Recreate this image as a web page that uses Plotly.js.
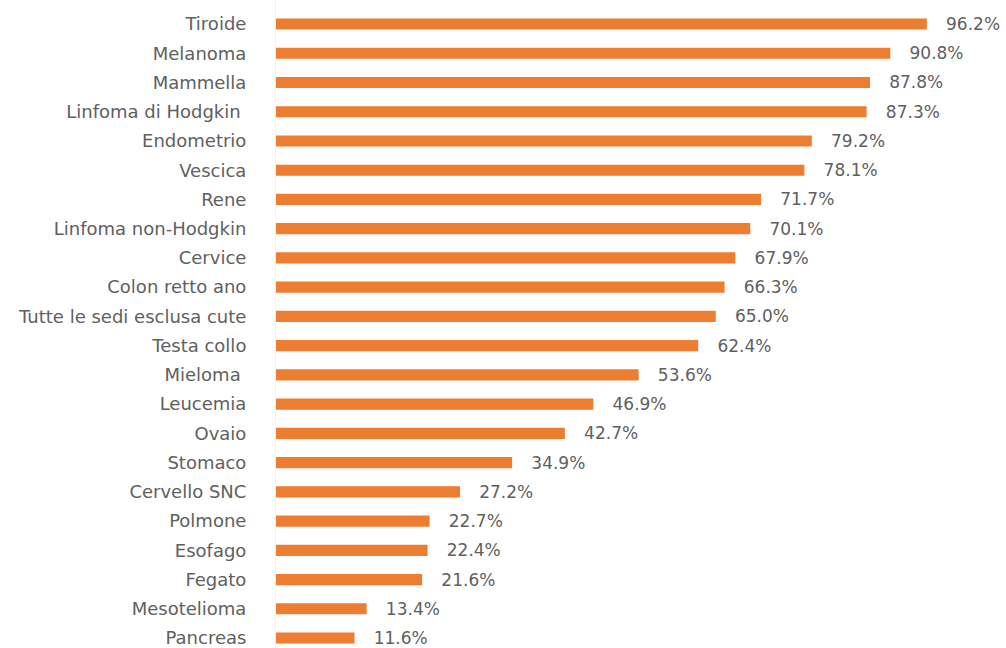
<!DOCTYPE html>
<html><head><meta charset="utf-8">
<script src="https://cdn.plot.ly/plotly-3.0.1.min.js"></script>
<style>html,body{margin:0;padding:0;background:#fff;}#chart{width:1006px;height:648px;}</style>
</head><body><div id="chart"></div>
<script>
const categories = ["Tiroide","Melanoma","Mammella","Linfoma di Hodgkin ","Endometrio","Vescica","Rene","Linfoma non-Hodgkin","Cervice","Colon retto ano","Tutte le sedi esclusa cute","Testa collo","Mieloma ","Leucemia","Ovaio","Stomaco","Cervello SNC","Polmone","Esofago","Fegato","Mesotelioma","Pancreas"];
const values = [96.2,90.8,87.8,87.3,79.2,78.1,71.7,70.1,67.9,66.3,65.0,62.4,53.6,46.9,42.7,34.9,27.2,22.7,22.4,21.6,13.4,11.6];
const valueLabels = values.map(v => "\u00a0\u00a0\u00a0" + v.toFixed(1) + "%");

const trace = {
  type: "bar", orientation: "h",
  x: values, y: categories,
  marker: {color: "#ED7D31"},
  text: valueLabels, textposition: "outside", cliponaxis: false, constraintext: "none",
  textfont: {family: "DejaVu Sans, sans-serif", size: 17, color: "#606060"},
  hoverinfo: "none"
};
const layout = {
  width: 1006, height: 648,
  margin: {l: 276, r: 0, t: 0, b: 0},
  paper_bgcolor: "#fff", plot_bgcolor: "#fff",
  bargap: 0.62,
  showlegend: false,
  xaxis: {range: [0, 107.9], showgrid: false, zeroline: false, showticklabels: false, showline: false, fixedrange: true},
  yaxis: {type: "category", range: [21.34, -0.82], showgrid: false, zeroline: false,
          showline: true, linecolor: "#eef3f7", linewidth: 1,
          ticks: "", ticklabelstandoff: 25,
          tickfont: {family: "DejaVu Sans, sans-serif", size: 18, color: "#606060"}, fixedrange: true}
};
Plotly.newPlot("chart", [trace], layout, {displayModeBar: false, staticPlot: true});
</script></body></html>
